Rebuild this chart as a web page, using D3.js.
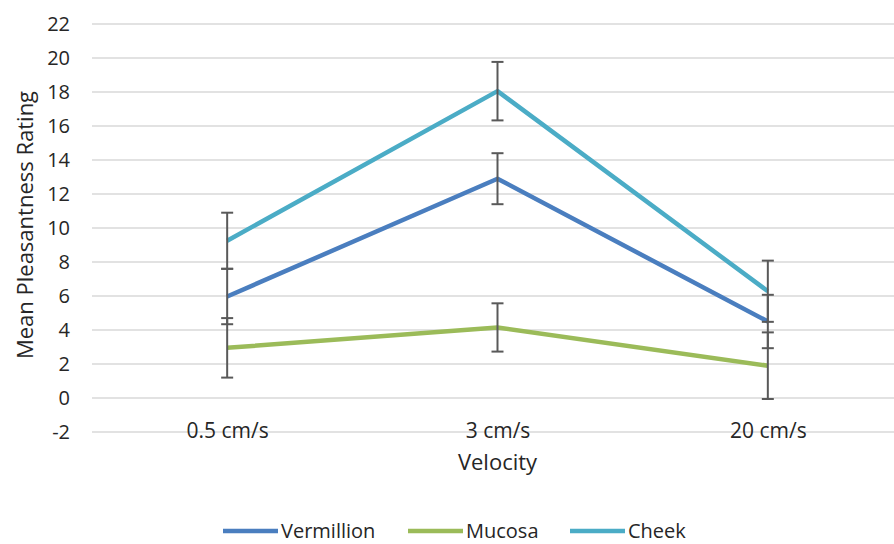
<!DOCTYPE html>
<html>
<head>
<meta charset="utf-8">
<script src="https://cdn.jsdelivr.net/npm/d3@7"></script>
<style>
  body { margin: 0; background: #fff; }
  text { font-family: "Open Sans", "Liberation Sans", sans-serif; fill: #262626; }
</style>
</head>
<body>
<svg id="chart" width="894" height="544"></svg>
<script>
const categories = ["0.5 cm/s", "3 cm/s", "20 cm/s"];
const seriesNames = ["Vermillion", "Mucosa", "Cheek"];
const seriesColors = ["#4a7ebf", "#9bbb59", "#4bacc6"];
const vermillion = [5.97, 12.9, 4.5];
const mucosa = [2.95, 4.15, 1.9];
const cheek = [9.25, 18.05, 6.28];
const vermillionErr = [1.63, 1.5, 1.57];
const mucosaErr = [1.75, 1.42, 1.96];
const cheekErr = [1.65, 1.72, 1.8];
const yTicks = [-2, 0, 2, 4, 6, 8, 10, 12, 14, 16, 18, 20, 22];

const series = [
  { name: seriesNames[0], color: seriesColors[0], values: vermillion, err: vermillionErr },
  { name: seriesNames[1], color: seriesColors[1], values: mucosa, err: mucosaErr },
  { name: seriesNames[2], color: seriesColors[2], values: cheek, err: cheekErr }
];

const svg = d3.select("#chart");
const x = d3.scalePoint().domain(categories).range([92, 903]).padding(0.5);
const y = d3.scaleLinear().domain([-2, 22]).range([432, 24]);

// gridlines
svg.append("g").selectAll("line").data(yTicks).join("line")
  .attr("x1", 92).attr("x2", 903)
  .attr("y1", d => y(d)).attr("y2", d => y(d))
  .attr("stroke", "#d9d9d9").attr("stroke-width", 1.5);

// y axis labels
const yAxis = d3.axisLeft(y).tickValues(yTicks).tickSize(0).tickPadding(0)
  .tickFormat(d => String(d));
const yg = svg.append("g").attr("transform", "translate(70,0)").call(yAxis);
yg.select(".domain").remove();
yg.selectAll("text").attr("font-size", 20).attr("fill", "#262626")
  .style("font-family", "'Open Sans', sans-serif");

// x axis labels (centered on the -2 line)
const xAxis = d3.axisBottom(x).tickSize(0).tickPadding(0);
const xg = svg.append("g").attr("transform", "translate(0,423)").call(xAxis);
xg.select(".domain").remove();
xg.selectAll("text").attr("font-size", 21).attr("fill", "#262626")
  .style("font-family", "'Open Sans', sans-serif");

// lines
const line = d3.line().x((d, i) => x(categories[i])).y(d => y(d));
series.forEach(s => {
  svg.append("path").datum(s.values)
    .attr("d", line).attr("fill", "none")
    .attr("stroke", s.color).attr("stroke-width", 4.5)
    .attr("stroke-linejoin", "round");
});

// error bars
series.forEach(s => {
  const g = svg.append("g").attr("stroke", "#595959").attr("stroke-width", 2);
  s.values.forEach((v, i) => {
    const cx = x(categories[i]);
    const hi = y(v + s.err[i]), lo = y(v - s.err[i]);
    g.append("line").attr("x1", cx).attr("x2", cx).attr("y1", hi).attr("y2", lo);
    g.append("line").attr("x1", cx - 6).attr("x2", cx + 6).attr("y1", hi).attr("y2", hi);
    g.append("line").attr("x1", cx - 6).attr("x2", cx + 6).attr("y1", lo).attr("y2", lo);
  });
});

// axis titles
svg.append("text").attr("x", x(categories[1])).attr("y", 470)
  .attr("text-anchor", "middle").attr("font-size", 22).text("Velocity");
svg.append("text").attr("transform", "translate(33,225) rotate(-90)")
  .attr("text-anchor", "middle").attr("font-size", 22).text("Mean Pleasantness Rating");

// legend
const legendX = [223, 408, 570];
series.forEach((s, i) => {
  svg.append("line").attr("x1", legendX[i]).attr("x2", legendX[i] + 55)
    .attr("y1", 531).attr("y2", 531)
    .attr("stroke", s.color).attr("stroke-width", 4.5);
  svg.append("text").attr("x", legendX[i] + 58).attr("y", 537.5)
    .attr("font-size", 20).text(s.name);
});
</script>
</body>
</html>
